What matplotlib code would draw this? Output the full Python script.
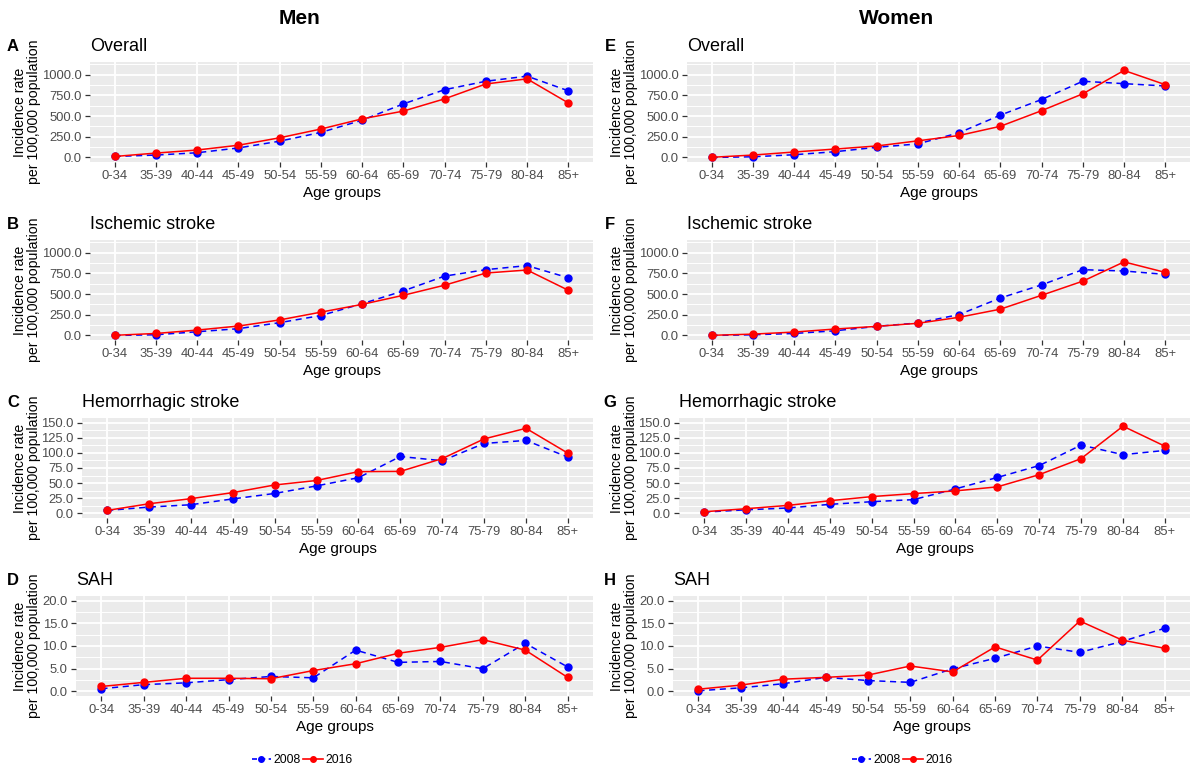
import numpy as np
import matplotlib
matplotlib.use("Agg")
import matplotlib.pyplot as plt
from matplotlib.lines import Line2D
from matplotlib.ticker import FixedLocator, FormatStrFormatter

plt.rcParams["font.family"] = ["Liberation Sans", "DejaVu Sans"]

# -------------------- Data --------------------

ages = ["0-34", "35-39", "40-44", "45-49", "50-54", "55-59",
        "60-64", "65-69", "70-74", "75-79", "80-84", "85+"]

men_overall_2008 = [12, 29, 57, 115, 197, 303, 451, 648, 820, 922, 984, 807]
men_overall_2016 = [12, 53, 90, 148, 238, 344, 467, 561, 709, 889, 951, 660]
women_overall_2008 = [0, 8, 33, 70, 123, 164, 299, 512, 701, 922, 893, 865]
women_overall_2016 = [2, 29, 66, 102, 139, 201, 266, 377, 566, 770, 1053, 881]

men_isch_2008 = [0, 8, 45, 82, 155, 241, 384, 539, 718, 796, 845, 698]
men_isch_2016 = [2, 24, 65, 114, 188, 282, 376, 486, 608, 755, 792, 547]
women_isch_2008 = [0, 8, 24, 57, 110, 151, 253, 453, 612, 796, 780, 739]
women_isch_2016 = [2, 16, 41, 78, 110, 147, 220, 318, 486, 657, 890, 763]

men_hem_2008 = [5, 10.5, 14.4, 24, 33, 45.5, 59, 94, 87, 115.5, 120.5, 93]
men_hem_2016 = [5, 16, 24.4, 34.4, 47, 54.4, 69, 69.4, 90.5, 123, 140.5, 99.5]
women_hem_2008 = [2.2, 6, 9, 15, 19.4, 22.8, 40.5, 59.4, 79, 112.8, 97, 104]
women_hem_2016 = [2.8, 7.8, 13.3, 21, 27.8, 32.8, 37.2, 43.9, 64, 90.5, 144, 111]

men_sah_2008 = [0.6, 1.5, 1.9, 2.6, 3.3, 3.0, 9.1, 6.4, 6.6, 5.0, 10.6, 5.4]
men_sah_2016 = [1.1, 2.0, 2.9, 2.9, 2.8, 4.6, 6.1, 8.4, 9.7, 11.4, 9.1, 3.1]
women_sah_2008 = [0.15, 0.8, 1.7, 3.1, 2.4, 2.0, 5.0, 7.3, 10.0, 8.6, 11.0, 13.9]
women_sah_2016 = [0.5, 1.4, 2.7, 3.1, 3.6, 5.6, 4.3, 9.8, 6.9, 15.5, 11.3, 9.5]

titles = ["Overall", "Ischemic stroke", "Hemorrhagic stroke", "SAH"]
men_letters = ["A", "B", "C", "D"]
women_letters = ["E", "F", "G", "H"]
y_max = [1100, 1100, 150, 20]
y_step = [250, 250, 25, 5]

men_data = [(men_overall_2008, men_overall_2016), (men_isch_2008, men_isch_2016),
            (men_hem_2008, men_hem_2016), (men_sah_2008, men_sah_2016)]
women_data = [(women_overall_2008, women_overall_2016), (women_isch_2008, women_isch_2016),
              (women_hem_2008, women_hem_2016), (women_sah_2008, women_sah_2016)]

# -------------------- Layout (pixels) --------------------

W, H = 1200, 782
col_offset = 597
men_left = [90, 90, 82, 76]
panel_right = 593
row_top0 = 62
row_step = 178
panel_h = 100

BG = "#EBEBEB"
TXT = "#4D4D4D"


def draw_panel(ax, d2008, d2016, ymax, step, title):
    x = np.arange(len(ages))
    ax.set_facecolor(BG)
    for s in ax.spines.values():
        s.set_visible(False)
    ax.plot(x, d2008, color="blue", linestyle=(0, (4, 3)), lw=1.1,
            marker="o", ms=5, zorder=3)
    ax.plot(x, d2016, color="red", linestyle="-", lw=1.1,
            marker="o", ms=5, zorder=4)
    ax.set_xlim(-0.6, len(ages) - 1 + 0.6)
    pad = ymax * 0.05
    ax.set_ylim(-pad, ymax + pad)
    major = np.arange(0, ymax + 1e-9, step)
    if ymax == 1100:
        major = np.arange(0, 1001, 250)
    ax.yaxis.set_major_locator(FixedLocator(major))
    minor = np.arange(step / 2, ymax + pad, step)
    ax.yaxis.set_minor_locator(FixedLocator(minor))
    ax.yaxis.set_major_formatter(FormatStrFormatter("%.1f"))
    ax.set_xticks(x)
    ax.set_xticklabels(ages)
    ax.grid(which="major", color="white", lw=1.3)
    ax.grid(which="minor", axis="y", color="white", lw=0.7)
    ax.set_axisbelow(True)
    ax.tick_params(which="major", length=3.5, width=0.9, color="#333333",
                   labelcolor=TXT, labelsize=9.4, pad=2.5)
    ax.tick_params(which="minor", length=0)
    ax.set_xlabel("Age groups", fontsize=11, labelpad=3)
    ax.set_title(title, loc="left", fontsize=13, pad=8)


fig = plt.figure(figsize=(12, 7.82), dpi=100)

for col, (data, letters) in enumerate([(men_data, men_letters), (women_data, women_letters)]):
    off = col * col_offset
    for i in range(4):
        top = row_top0 + i * row_step
        left = men_left[i] + off
        right = panel_right + off
        ax = fig.add_axes([left / W, 1 - (top + panel_h) / H,
                           (right - left) / W, panel_h / H])
        draw_panel(ax, data[i][0], data[i][1], y_max[i], y_step[i], titles[i])
        fig.text((13 + off) / W, 1 - (top - 11) / H, letters[i], fontsize=12,
                 fontweight="bold", ha="center", va="baseline")
        fig.text((27 + off) / W, 1 - (top + panel_h / 2) / H,
                 "Incidence rate\nper 100,000 population", fontsize=10.2,
                 rotation=90, ha="center", va="center", linespacing=0.95)

fig.text(300 / W, 1 - 18 / H, "Men", fontsize=15, fontweight="bold",
         ha="center", va="center")
fig.text(897 / W, 1 - 18 / H, "Women", fontsize=15, fontweight="bold",
         ha="center", va="center")

handles = [Line2D([], [], color="blue", linestyle=(0, (3, 2)), lw=1.2, marker="o", ms=4),
           Line2D([], [], color="red", linestyle="-", lw=1.2, marker="o", ms=4)]
for cx in [302, 902]:
    fig.legend(handles, ["2008", "2016"], loc="center",
               bbox_to_anchor=(cx / W, 1 - 760 / H), ncol=2, frameon=False,
               fontsize=8.8, handlelength=1.6, handletextpad=0.2,
               columnspacing=0.2)

fig.savefig("out.png", dpi=100)
